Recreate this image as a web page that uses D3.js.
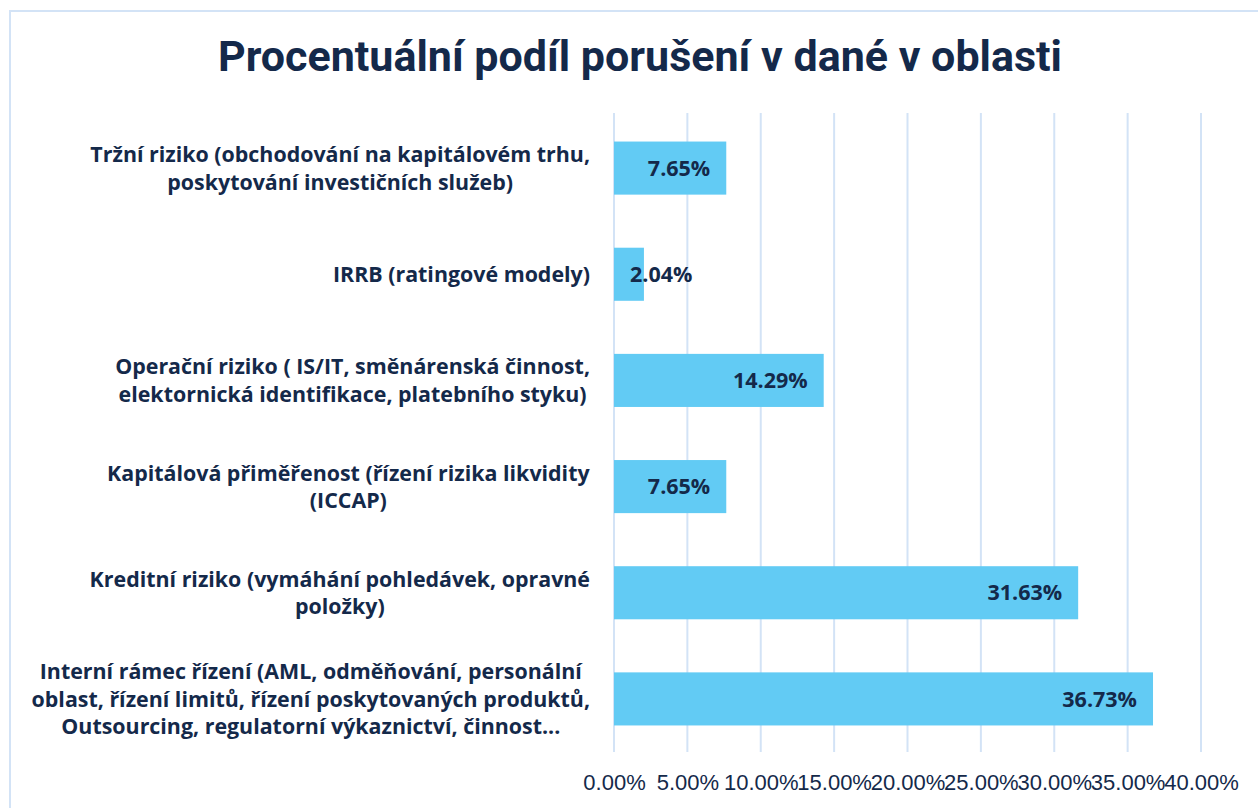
<!DOCTYPE html>
<html><head><meta charset="utf-8">
<script src="https://cdn.jsdelivr.net/npm/d3@7"></script>
<style>body{margin:0;background:#fff}svg{display:block}</style>
</head><body>
<script>
const title = "Procentuální podíl porušení v dané v oblasti";
const categories = [
  ["Tržní riziko (obchodování na kapitálovém trhu,", "poskytování investičních služeb)"],
  ["IRRB (ratingové modely)"],
  ["Operační riziko ( IS/IT, směnárenská činnost,", "elektornická identifikace, platebního styku)"],
  ["Kapitálová přiměřenost (řízení rizika likvidity", "(ICCAP)"],
  ["Kreditní riziko (vymáhání pohledávek, opravné", "položky)"],
  ["Interní rámec řízení (AML, odměňování, personální", "oblast, řízení limitů, řízení poskytovaných produktů,", "Outsourcing, regulatorní výkaznictví, činnost..."]
];
const values = [7.65, 2.04, 14.29, 7.65, 31.63, 36.73];
const ticks = [0, 5, 10, 15, 20, 25, 30, 35, 40];

const W = 1258, H = 808;
const navy = "#14294a";
const svg = d3.select("body").append("svg").attr("width", W).attr("height", H);

// frame
svg.append("rect").attr("x", 10).attr("y", 11).attr("width", W + 10).attr("height", H + 10)
  .attr("fill", "none").attr("stroke", "#d3e3f6").attr("stroke-width", 2);

svg.append("text").attr("x", 640).attr("y", 71).attr("text-anchor", "middle")
  .attr("font-family", "Roboto").attr("font-weight", "bold").attr("font-size", 43)
  .attr("fill", navy).text(title);

const x = d3.scaleLinear().domain([0, 40]).range([614, 1201]);
const y = d3.scaleBand().domain(d3.range(categories.length)).range([115, 752]).paddingInner(0.5).paddingOuter(0.25);

// gridlines
svg.append("g").selectAll("line").data(ticks).join("line")
  .attr("x1", d => x(d)).attr("x2", d => x(d)).attr("y1", 113).attr("y2", 752)
  .attr("stroke", "#d3e3f6").attr("stroke-width", 2);

// bars
svg.append("g").selectAll("rect").data(values).join("rect")
  .attr("x", x(0)).attr("y", (d, i) => y(i)).attr("width", d => x(d) - x(0)).attr("height", y.bandwidth())
  .attr("fill", "#62cbf4");

// value labels
const vl = svg.append("g").selectAll("text").data(values).join("text")
  .attr("y", (d, i) => y(i) + y.bandwidth() / 2).attr("dy", "0.36em")
  .attr("font-family", "Open Sans").attr("font-weight", "bold").attr("font-size", 21.5)
  .attr("fill", navy).text(d => d.toFixed(2) + "%");
vl.each(function(d) {
  const w = this.getComputedTextLength();
  const end = x(d) - 16;
  if (end - w < x(0) + 14) d3.select(this).attr("x", x(0) + 16).attr("text-anchor", "start");
  else d3.select(this).attr("x", end).attr("text-anchor", "end");
});

// x tick labels
const xAxis = d3.axisBottom(x).tickValues(ticks).tickSize(0).tickPadding(0).tickFormat(d => d.toFixed(2) + "%");
const gx = svg.append("g").attr("transform", "translate(0,774)").call(xAxis);
gx.select(".domain").remove();
gx.attr("font-family", "Liberation Sans").attr("font-size", 22);
gx.selectAll("text").style("font-family", "'Liberation Sans', Arial, sans-serif").style("font-size", "22px")
  .attr("fill", navy);

// category labels
const lh = 27.5;
categories.forEach((lines, i) => {
  const cy = y(i) + y.bandwidth() / 2;
  const g = svg.append("g");
  const t = g.append("text").attr("font-family", "Open Sans").attr("font-weight", "bold")
    .attr("font-size", 21.4).attr("fill", navy).attr("text-anchor", "middle");
  lines.forEach((l, j) => {
    t.append("tspan").attr("x", 0).attr("y", cy + (j - (lines.length - 1) / 2) * lh).attr("dy", "0.36em").text(l);
  });
  const bb = t.node().getBBox();
  g.attr("transform", `translate(${590 - bb.width / 2},0)`);
});
</script>
</body></html>
